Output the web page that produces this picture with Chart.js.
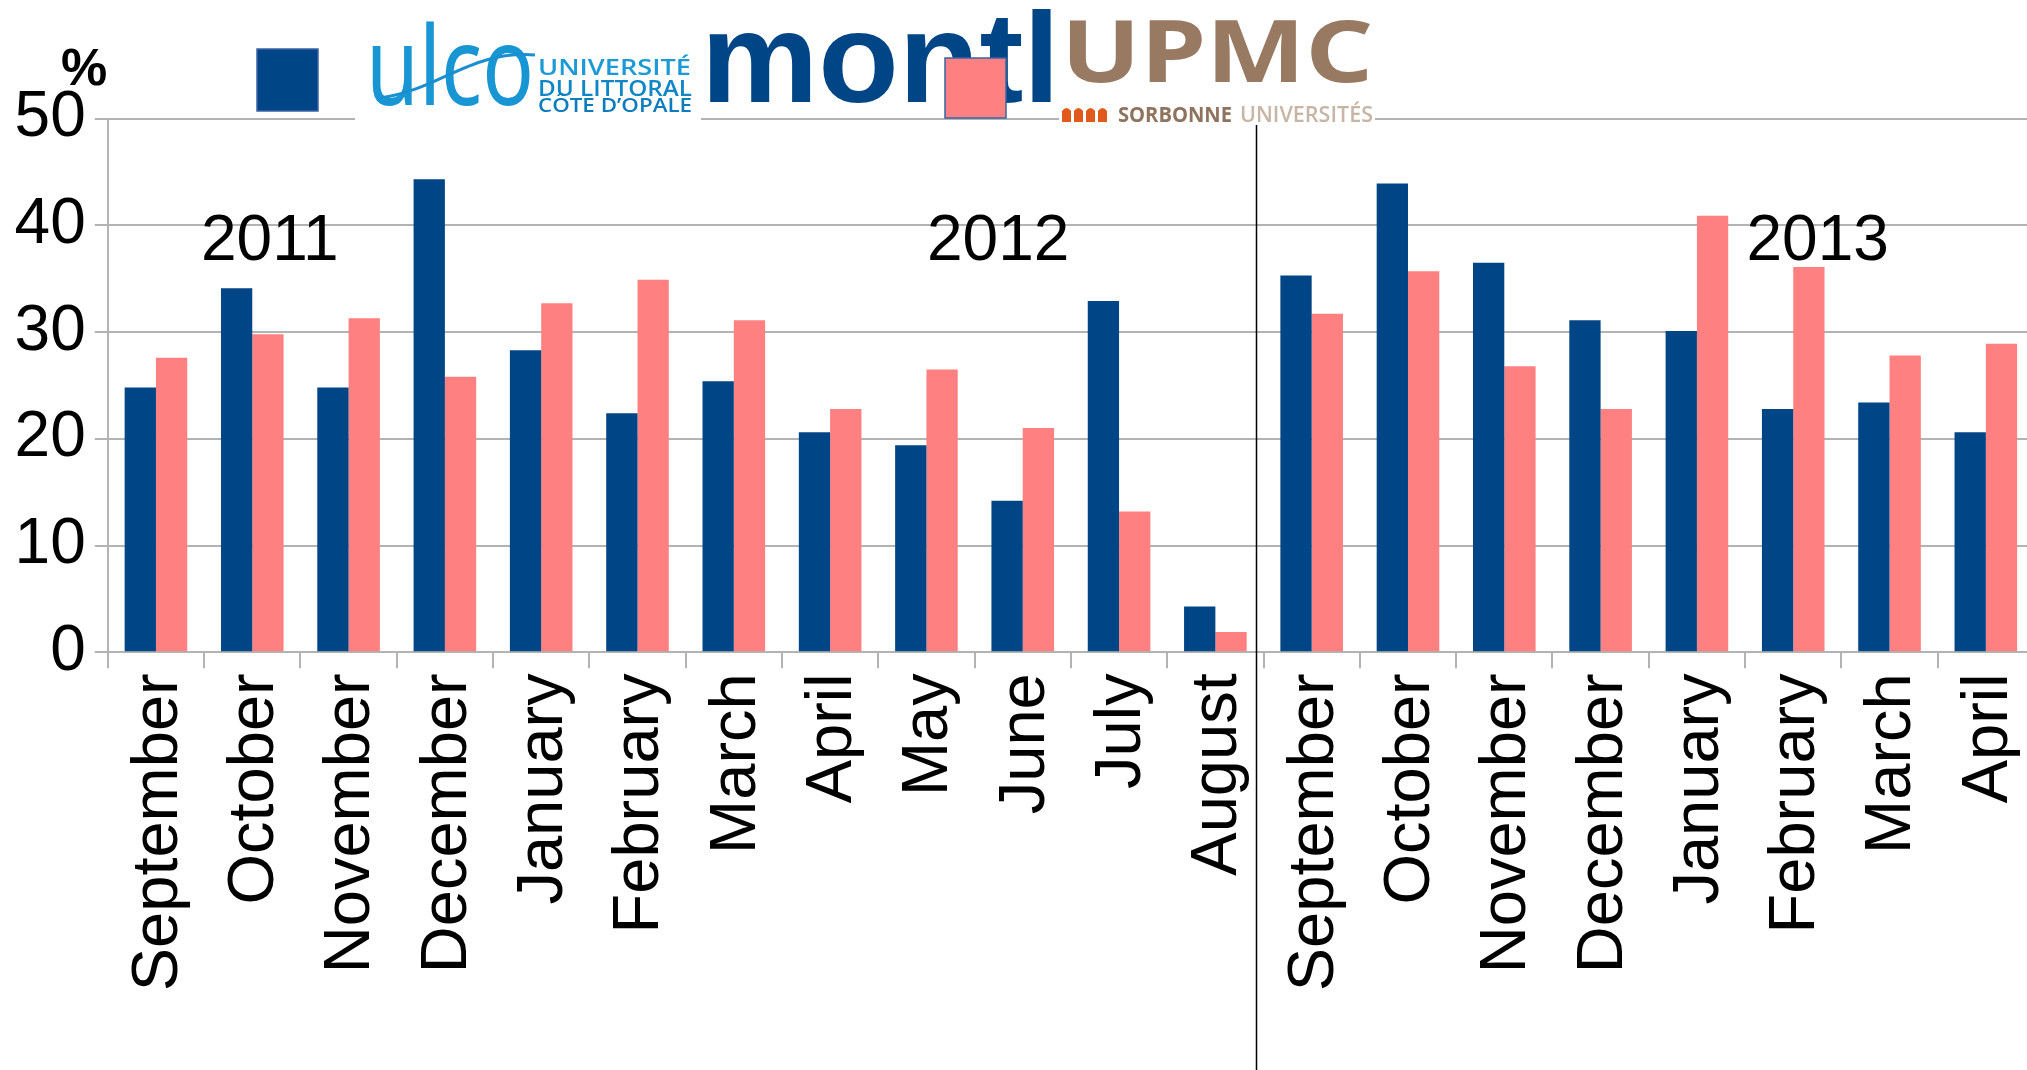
<!DOCTYPE html>
<html>
<head>
<meta charset="utf-8">
<script src="https://cdn.jsdelivr.net/npm/chart.js@4/dist/chart.umd.min.js"></script>
<style>
  html,body{margin:0;padding:0;background:#fff;overflow:hidden;}
  #wrap{width:2040px;height:1070px;}
</style>
</head>
<body>
<div id="wrap"><canvas id="c" width="2040" height="1070"></canvas></div>
<script>
// ---- data ----
const categories = ['September','October','November','December','January','February','March','April','May','June','July','August',
                    'September','October','November','December','January','February','March','April'];
const ulcoValues = [24.8,34.1,24.8,44.3,28.3,22.4,25.4,20.6,19.4,14.2,32.9,4.3,35.3,43.9,36.5,31.1,30.1,22.8,23.4,20.6];
const upmcValues = [27.6,29.8,31.3,25.8,32.7,34.9,31.1,22.8,26.5,21.0,13.2,1.9,31.7,35.7,26.8,22.8,40.9,36.1,27.8,28.9];
const seriesNames = ['ULCO', 'UPMC'];
const yearLabels = ['2011','2012','2013'];
const yMin = 0, yMax = 50, yStep = 10;
const unitLabel = '%';

const BLUE = '#004586', PINK = '#ff8080', GRID = '#b3b3b3';
const FONT = '"Liberation Sans", Arial, sans-serif';

function fitText(ctx, text, x, yBase, w, font, color, sy) {
  ctx.save();
  ctx.font = font; ctx.fillStyle = color;
  ctx.textAlign = 'left'; ctx.textBaseline = 'alphabetic';
  const m = ctx.measureText(text).width;
  ctx.translate(x, yBase);
  ctx.scale(w / m, sy || 1);
  ctx.fillText(text, 0, 0);
  ctx.restore();
}

const overlay = {
  id: 'overlay',
  afterDraw(chart) {
    const ctx = chart.ctx;
    const xs = chart.scales.x;
    ctx.save();
    // separator between school years
    const sep = Math.round((xs.getPixelForValue(11) + xs.getPixelForValue(12)) / 2 - 8) + 0.5;
    ctx.strokeStyle = '#000'; ctx.lineWidth = 1.5;
    ctx.beginPath(); ctx.moveTo(sep, 125); ctx.lineTo(sep, 1070); ctx.stroke();

    // year labels
    ctx.fillStyle = '#000'; ctx.font = '64px ' + FONT;
    ctx.textAlign = 'left'; ctx.textBaseline = 'alphabetic';
    ctx.fillText(yearLabels[0], 201, 259.5);
    ctx.fillText(yearLabels[1], 927, 259.5);
    ctx.fillText(yearLabels[2], 1746.5, 259.5);

    // unit label
    ctx.font = 'bold 52px ' + FONT; ctx.textAlign = 'center';
    ctx.fillText(unitLabel, 84, 84.5);

    // white logo backgrounds
    ctx.fillStyle = '#fff';
    ctx.fillRect(355, 6, 346, 117);
    ctx.fillRect(1059, 4, 316, 121);

    // legend square 1
    ctx.fillStyle = chart.data.datasets[0].backgroundColor;
    ctx.fillRect(257, 49, 61, 62);
    ctx.strokeStyle = '#3a64a6'; ctx.lineWidth = 1.5;
    ctx.strokeRect(257, 49, 61, 62);

    // ULCO logo (as text)
    fitText(ctx, 'ulco', 366, 105, 168, '112px "Noto Sans", sans-serif', '#1896d3', 0.98);
    ctx.strokeStyle = '#1a8fcf'; ctx.lineWidth = 3;
    ctx.beginPath(); ctx.moveTo(380, 98);
    ctx.bezierCurveTo(440, 90, 470, 50, 535, 55); ctx.stroke();
    fitText(ctx, 'UNIVERSITÉ', 538, 75, 153, '600 21px "Open Sans", sans-serif', '#1c9ad6');
    fitText(ctx, 'DU LITTORAL', 538, 95.5, 154, '600 21px "Open Sans", sans-serif', '#0f86c6');
    fitText(ctx, 'CÔTE D\u2019OPALE', 538, 112, 154, '600 19px "Open Sans", sans-serif', '#0c7cbd');

    // montl
    fitText(ctx, 'montl', 701, 101.7, 359, 'bold 128px ' + FONT, BLUE);

    // legend square 2
    ctx.fillStyle = chart.data.datasets[1].backgroundColor;
    ctx.fillRect(945, 58, 61, 60);
    ctx.strokeStyle = '#3a64a6'; ctx.lineWidth = 1.5;
    ctx.strokeRect(945, 58, 61, 60);

    // UPMC logo (as text)
    fitText(ctx, 'UPMC', 1061, 81.7, 312, 'bold 86px "Noto Sans", sans-serif', '#987a62');
    ctx.fillStyle = '#e25a1b';
    for (let i = 0; i < 4; i++) {
      const bx = 1062 + i * 12;
      ctx.beginPath();
      ctx.moveTo(bx, 122); ctx.lineTo(bx, 111);
      ctx.quadraticCurveTo(bx + 4.5, 105, bx + 9, 111);
      ctx.lineTo(bx + 9, 122); ctx.closePath(); ctx.fill();
    }
    fitText(ctx, 'SORBONNE', 1118, 121.7, 114, 'bold 21px "Open Sans", sans-serif', '#8f735e');
    fitText(ctx, 'UNIVERSITÉS', 1240, 121.7, 133, '600 21px "Open Sans", sans-serif', '#c7b5a5');
    ctx.restore();
  }
};

new Chart(document.getElementById('c'), {
  type: 'bar',
  data: {
    labels: categories,
    datasets: [
      { label: seriesNames[0], data: ulcoValues, backgroundColor: BLUE, borderWidth: 0 },
      { label: seriesNames[1], data: upmcValues, backgroundColor: PINK, borderWidth: 0 }
    ]
  },
  options: {
    responsive: false,
    devicePixelRatio: 1,
    animation: false,
    layout: { padding: { top: 118.5, left: 0, right: 6, bottom: 0 } },
    datasets: { bar: { categoryPercentage: 0.65, barPercentage: 1.0 } },
    plugins: { legend: { display: false }, tooltip: { enabled: false } },
    scales: {
      x: {
        offset: true,
        grid: { display: true, drawOnChartArea: false, drawTicks: true, tickLength: 16, color: GRID, lineWidth: 2, offset: true },
        border: { display: true, color: GRID, width: 2 },
        ticks: { autoSkip: false, minRotation: 90, maxRotation: 90, padding: 5, labelOffset: 3, color: '#000',
                 font: { family: FONT, size: 65 } },
        afterFit(s) { s.height = 417.7; s.paddingLeft = 0; s.paddingRight = 0; }
      },
      y: {
        min: yMin, max: yMax,
        grid: { color: GRID, lineWidth: 2, tickLength: 13 },
        border: { display: true, color: GRID, width: 2 },
        ticks: { stepSize: yStep, padding: 9, color: '#000', font: { family: FONT, size: 64 } },
        afterFit(s) { s.width = 107.8; }
      }
    }
  },
  plugins: [overlay]
});
</script>
</body>
</html>
